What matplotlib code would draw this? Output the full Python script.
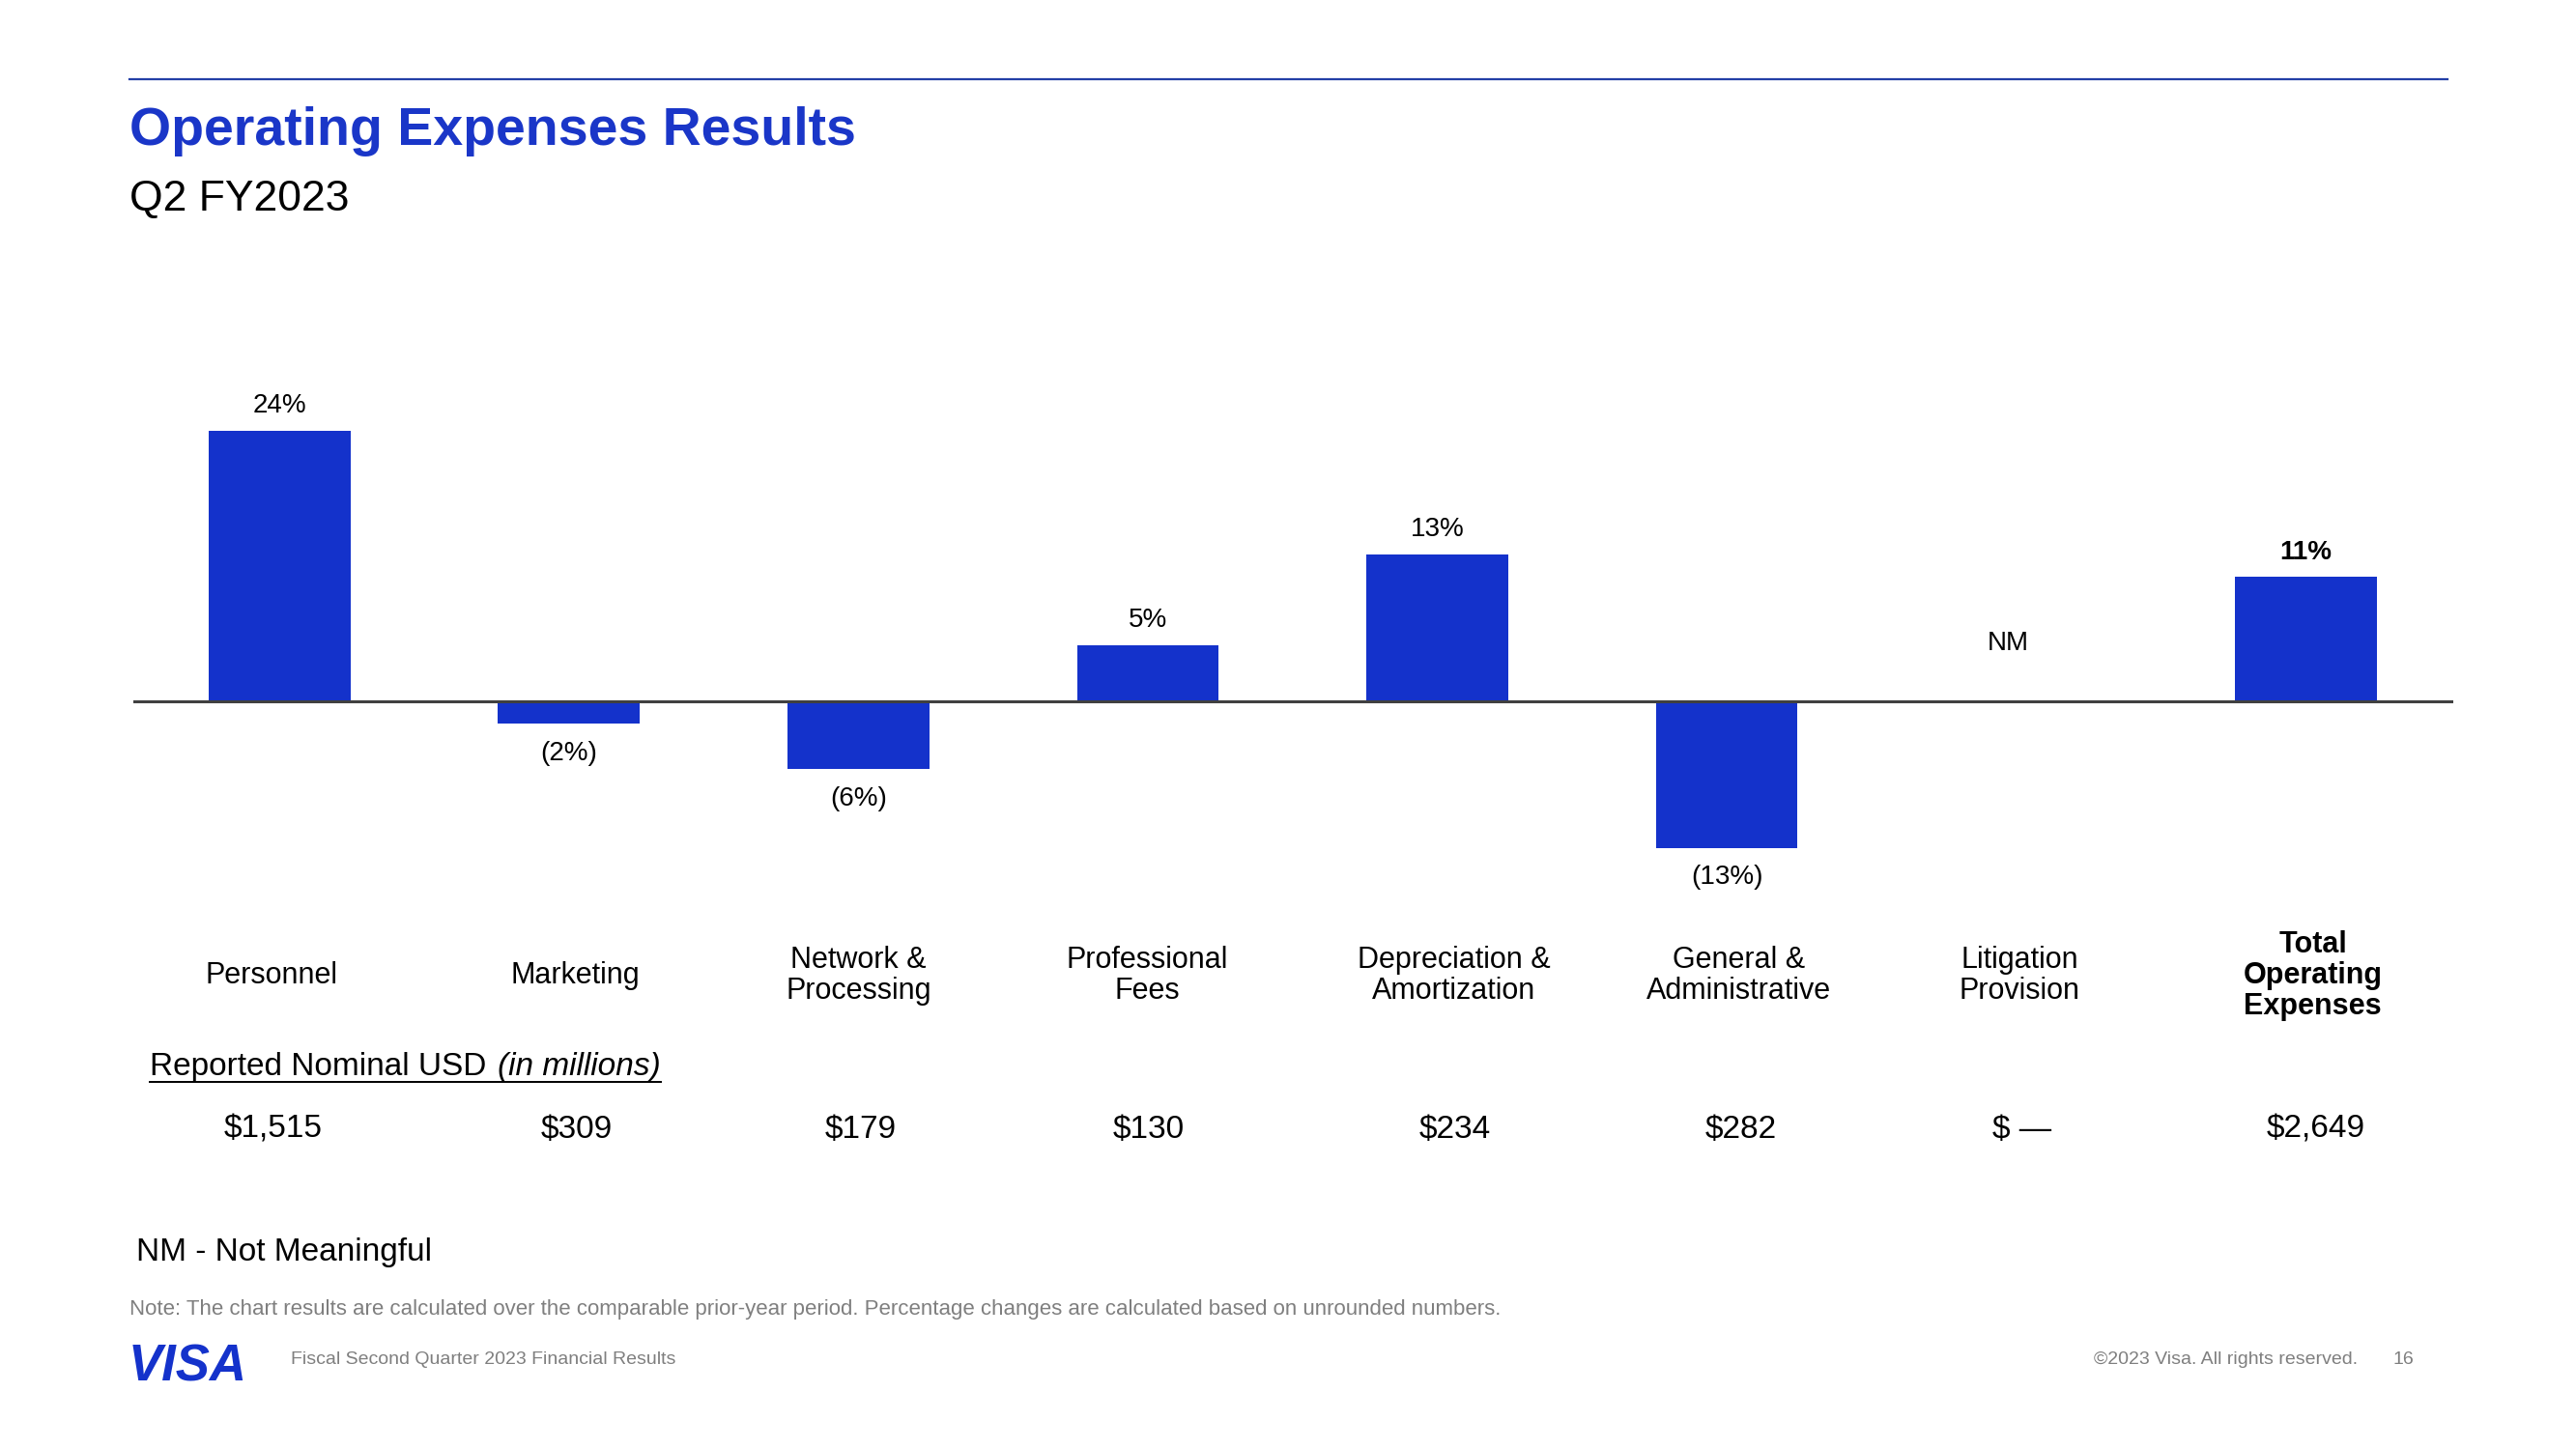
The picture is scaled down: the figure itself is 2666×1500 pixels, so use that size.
import matplotlib
matplotlib.use("Agg")
import matplotlib.pyplot as plt
import matplotlib.transforms as mtransforms
from matplotlib.lines import Line2D
import numpy as np

plt.rcParams['font.family'] = ['Liberation Sans', 'DejaVu Sans']

# ---------------- data ----------------
categories = ["Personnel", "Marketing", "Network &\nProcessing", "Professional\nFees",
              "Depreciation &\nAmortization", "General &\nAdministrative",
              "Litigation\nProvision", "Total\nOperating\nExpenses"]
pct_change = [24, -2, -6, 5, 13, -13, np.nan, 11]
pct_labels = ["24%", "(2%)", "(6%)", "5%", "13%", "(13%)", "NM", "11%"]
usd_labels = ["$1,515", "$309", "$179", "$130", "$234", "$282", "$ \u2014", "$2,649"]

# ---------------- style ----------------
W, H = 2666, 1500
BAR = "#1432CB"
TITLE_BLUE = "#1A36C8"
RULE_BLUE = "#233FA6"
GRAY = "#7F7F7F"
label_dx = [-0.028, 0.022, 0.0, -0.002, 0.058, 0.04, 0.012, 0.025]
usd_dx = [-0.022, 0.027, 0.008, 0.003, 0.06, 0.048, 0.02, 0.035]

fig = plt.figure(figsize=(W / 100, H / 100), dpi=100)
fig.patch.set_facecolor("white")


def fx(px):
    return px / W


def fy(py):
    return 1 - py / H


# axes placed in pixel coordinates
ax_l, ax_r, ax_t, ax_b = 138, 2539, 380, 930
ax = fig.add_axes([fx(ax_l), fy(ax_b), fx(ax_r - ax_l), (ax_b - ax_t) / H])
ax.set_xlim(-0.505, 7.51)
ax.set_ylim(-17.47, 29.62)
ax.axis("off")

x = np.arange(len(categories))
vals = np.array(pct_change, dtype=float)
ax.bar(x, np.nan_to_num(vals), width=0.49, color=BAR, zorder=2)
ax.axhline(0, color="#404040", lw=2.2, zorder=3)

for i, (v, lab) in enumerate(zip(vals, pct_labels)):
    bold = (i == len(categories) - 1)
    if np.isnan(v):
        ax.annotate(lab, xy=(i, 0), xytext=(-6, 43.5), textcoords="offset points",
                    ha="center", va="center", fontsize=20)
    elif v >= 0:
        ax.annotate(lab, xy=(i, v), xytext=(0, 18.5), textcoords="offset points",
                    ha="center", va="center", fontsize=20,
                    fontweight="bold" if bold else "normal")
    else:
        ax.annotate(lab, xy=(i, v), xytext=(0, -22), textcoords="offset points",
                    ha="center", va="center", fontsize=20,
                    fontweight="bold" if bold else "normal")

blend = mtransforms.blended_transform_factory(ax.transData, fig.transFigure)
for i, (cat, usd) in enumerate(zip(categories, usd_labels)):
    bold = (i == len(categories) - 1)
    ax.text(i + label_dx[i], fy(1010), cat, transform=blend, ha="center", va="center",
            fontsize=22, linespacing=1.08, multialignment="center",
            fontweight="bold" if bold else "normal")
    ax.text(i + usd_dx[i], fy(1178), usd, transform=blend, ha="center", va="baseline",
            fontsize=24)

# ---------------- header ----------------
fig.add_artist(Line2D([fx(134), fx(2533)], [fy(82), fy(82)], color=RULE_BLUE, lw=1.6))
fig.text(fx(134), fy(136), "Operating Expenses Results", color=TITLE_BLUE,
         fontsize=40, fontweight="bold", ha="left", va="center")
fig.text(fx(134), fy(206), "Q2 FY2023", color="black", fontsize=32,
         ha="left", va="center")

# ---------------- table caption (underlined) ----------------
t1 = fig.text(fx(155), fy(1105), "Reported Nominal USD ", fontsize=24,
              ha="left", va="center")
fig.canvas.draw()
r = fig.canvas.get_renderer()
bb1 = t1.get_window_extent(r)
t2 = fig.text(bb1.x1 / W + 0.001, fy(1105), "(in millions)", fontsize=24, style="italic",
              ha="left", va="center")
fig.canvas.draw()
bb2 = t2.get_window_extent(r)
uy = fy(1120)
fig.add_artist(Line2D([bb1.x0 / W, bb2.x1 / W], [uy, uy], color="black", lw=1.4))

# ---------------- notes & footer ----------------
fig.text(fx(141), fy(1297), "NM - Not Meaningful", fontsize=24, ha="left", va="center")
fig.text(fx(134), fy(1356),
         "Note: The chart results are calculated over the comparable prior-year period. "
         "Percentage changes are calculated based on unrounded numbers.",
         fontsize=16, color=GRAY, ha="left", va="center")
fig.text(fx(133), fy(1415), "VISA", fontsize=38, fontweight="bold", style="italic",
         color=BAR, ha="left", va="center")
fig.text(fx(301), fy(1407), "Fiscal Second Quarter 2023 Financial Results",
         fontsize=14, color=GRAY, ha="left", va="center")
fig.text(fx(2440), fy(1408), "\u00a92023 Visa. All rights reserved.",
         fontsize=14, color=GRAY, ha="right", va="center")
fig.text(fx(2477), fy(1408), "16", fontsize=14, color=GRAY, ha="left", va="center")

fig.savefig("out.png", dpi=100, facecolor="white")
